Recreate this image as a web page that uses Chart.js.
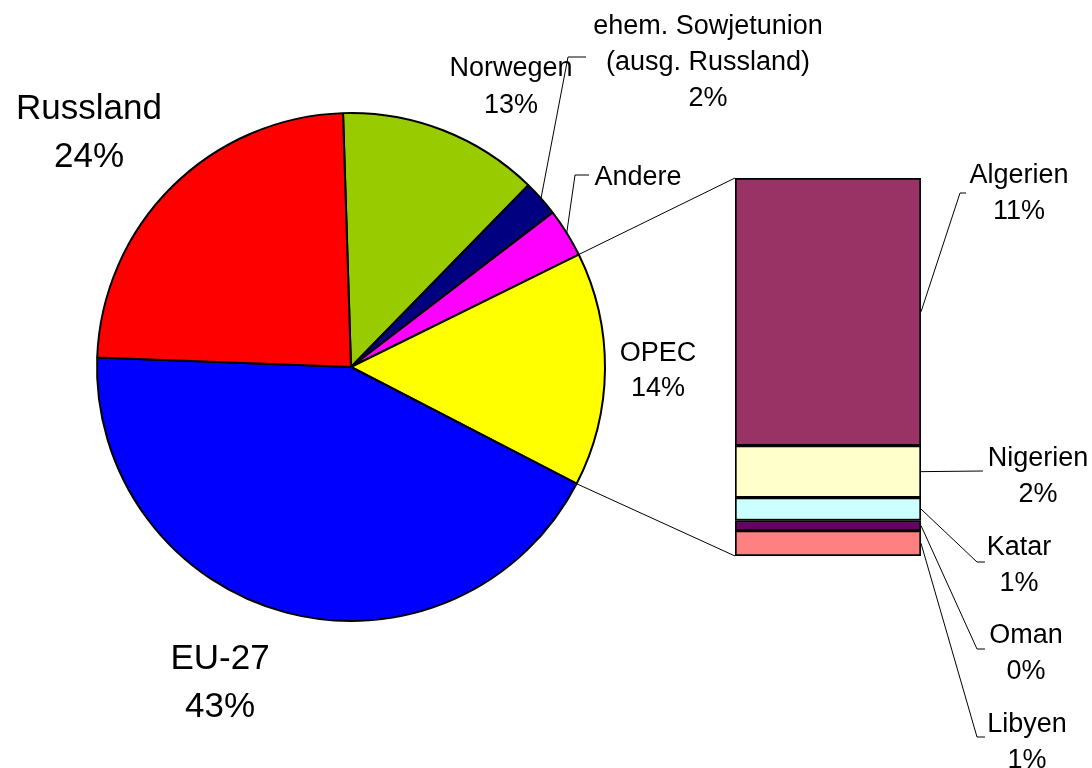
<!DOCTYPE html>
<html lang="de">
<head>
  <meta charset="UTF-8" />
  <title>Erdgasaufkommen EU-27</title>
  <script src="https://cdn.jsdelivr.net/npm/chart.js"></script>
  <style>
    body {
      margin: 0;
      background: #fff;
    }

    .wrap {
      position: relative;
      width: 1092px;
      height: 768px;
    }

    canvas {
      position: absolute;
      left: 0;
      top: 0;
    }

    #barChart {
      pointer-events: none;
    }
  </style>
</head>
<body>
  <div class="wrap">
    <canvas id="pieChart" width="1092" height="768"></canvas>
    <canvas id="barChart" width="1092" height="768"></canvas>
  </div>

  <script>
    // Pie: clockwise from the top
    const pieLabels = ['Norwegen', 'ehem. Sowjetunion\n(ausg. Russland)', 'Andere', 'OPEC', 'EU-27', 'Russland'];
    const pieValues = [12.8, 2.3, 3.1, 14.9, 43.0, 23.9];
    const piePct = ['13%', '2%', '', '14%', '43%', '24%'];
    const pieColors = ['#99cc00', '#000080', '#ff00ff', '#ffff00', '#0000ff', '#ff0000'];

    // OPEC breakdown, top to bottom
    const opecLabels = ['Algerien', 'Nigerien', 'Katar', 'Oman', 'Libyen'];
    const opecValues = [10.55, 2.05, 0.9, 0.4, 1.0];
    const opecPct = ['11%', '2%', '1%', '0%', '1%'];
    const opecColors = ['#993366', '#ffffcc', '#ccffff', '#660066', '#ff8080'];

    const FONT = "'Liberation Sans', Arial, sans-serif";

    // label placement (text centre x, first baseline y, line gap, font size)
    const pieLabelPos = [
      { x: 511, y: 76, gap: 37, size: 27 },
      { x: 708, y: 34, gap: 36, size: 27, leader: [[568, 57], [586, 57]] },
      { x: 638, y: 185, gap: 36, size: 27, leader: [[575, 175], [589, 175]] },
      { x: 658, y: 361, gap: 35, size: 27 },
      { x: 220, y: 669, gap: 48, size: 35 },
      { x: 89, y: 119, gap: 48, size: 35 }
    ];
    const opecLabelPos = [
      { x: 1019, y: 183, leader: [[960, 193], [966, 193]] },
      { x: 1038, y: 466, leader: [[983, 471]] },
      { x: 1019, y: 555, leader: [[977, 562], [985, 562]] },
      { x: 1026, y: 643, leader: [[977, 649], [985, 649]] },
      { x: 1027, y: 732, leader: [[977, 737], [985, 737]] }
    ];

    function drawText(ctx, lines, x, y, gap, size) {
      ctx.save();
      ctx.fillStyle = '#000';
      ctx.font = size + 'px ' + FONT;
      ctx.textAlign = 'center';
      ctx.textBaseline = 'alphabetic';
      lines.forEach((t, i) => ctx.fillText(t, x, y + i * gap));
      ctx.restore();
    }

    function drawLeader(ctx, start, pts) {
      ctx.save();
      ctx.strokeStyle = '#000';
      ctx.lineWidth = 1;
      ctx.beginPath();
      ctx.moveTo(start[0], start[1]);
      pts.forEach(p => ctx.lineTo(p[0], p[1]));
      ctx.stroke();
      ctx.restore();
    }

    function arcPoint(arc, angle) {
      return [arc.x + Math.cos(angle) * arc.outerRadius, arc.y + Math.sin(angle) * arc.outerRadius];
    }

    const pieLabelPlugin = {
      id: 'pieLabels',
      afterDraw(chart) {
        const ctx = chart.ctx;
        const arcs = chart.getDatasetMeta(0).data;
        pieLabels.forEach((name, i) => {
          const pos = pieLabelPos[i];
          const lines = name.split('\n');
          if (piePct[i]) lines.push(piePct[i]);
          drawText(ctx, lines, pos.x, pos.y, pos.gap, pos.size);
          if (pos.leader) {
            const a = arcs[i];
            const mid = (a.startAngle + a.endAngle) / 2;
            drawLeader(ctx, arcPoint(a, mid), pos.leader);
          }
        });
      }
    };

    const pieChart = new Chart(document.getElementById('pieChart'), {
      type: 'pie',
      data: {
        labels: pieLabels,
        datasets: [{
          data: pieValues,
          backgroundColor: pieColors,
          borderColor: '#000',
          borderWidth: 2
        }]
      },
      options: {
        responsive: false,
        animation: false,
        rotation: -1.8,
        layout: { padding: { left: 95, top: 112, right: 485, bottom: 146 } },
        plugins: {
          legend: { display: false },
          tooltip: { enabled: false }
        }
      },
      plugins: [pieLabelPlugin]
    });

    const opecIndex = pieLabels.indexOf('OPEC');

    const barLabelPlugin = {
      id: 'barLabels',
      afterDraw(chart) {
        const ctx = chart.ctx;
        const area = chart.chartArea;

        // lines joining the OPEC slice to the bar
        const arc = pieChart.getDatasetMeta(0).data[opecIndex];
        const p1 = arcPoint(arc, arc.startAngle);
        const p2 = arcPoint(arc, arc.endAngle);
        drawLeader(ctx, p1, [[area.left, area.top]]);
        drawLeader(ctx, p2, [[area.left, area.bottom]]);

        opecLabels.forEach((name, i) => {
          const dsIndex = opecLabels.length - 1 - i;
          const bar = chart.getDatasetMeta(dsIndex).data[0];
          const midY = (bar.y + bar.base) / 2;
          const pos = opecLabelPos[i];
          drawLeader(ctx, [area.right, midY], pos.leader);
          drawText(ctx, [name, opecPct[i]], pos.x, pos.y, 36, 27);
        });
      }
    };

    // bottom segment first so the stack reads top to bottom like the lists
    const barSets = opecLabels.map((name, i) => ({
      label: name,
      data: [opecValues[i]],
      backgroundColor: opecColors[i],
      borderColor: '#000',
      borderWidth: 2,
      borderSkipped: false
    })).reverse();

    new Chart(document.getElementById('barChart'), {
      type: 'bar',
      data: { labels: ['OPEC'], datasets: barSets },
      options: {
        responsive: false,
        animation: false,
        categoryPercentage: 1,
        barPercentage: 1,
        layout: { padding: { left: 735, top: 178, right: 171, bottom: 212 } },
        scales: {
          x: { stacked: true, display: false },
          y: {
            stacked: true,
            display: false,
            min: 0,
            max: opecValues.reduce((a, b) => a + b, 0)
          }
        },
        plugins: {
          legend: { display: false },
          tooltip: { enabled: false }
        }
      },
      plugins: [barLabelPlugin]
    });
  </script>
</body>
</html>
